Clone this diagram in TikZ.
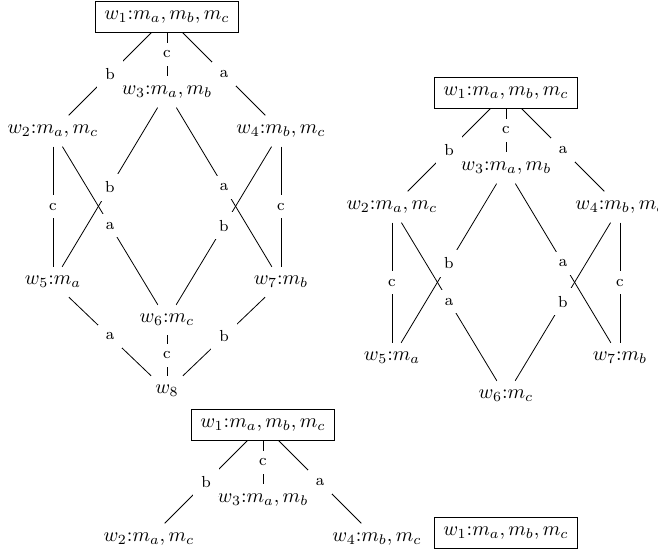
\documentclass[tikz,border=0pt]{standalone}
\tikzset{
  world/.style={inner sep=4.5pt},
  actual/.style={world,draw},
  lbl/.style={fill=white,inner sep=4pt,font=\footnotesize},
}
\begin{document}
\begin{tikzpicture}[x=0.5pt,y=-0.5pt]
\useasboundingbox (0,0) rectangle (658,552);
\clip (0,0) rectangle (658,552);
% ---------- left model ----------
\node[actual] (L1) at (167,17) {$w_1{:}m_a,m_b,m_c$};
\node[world] (L3) at (167,92) {$w_3{:}m_a,m_b$};
\node[world] (L2) at (53,131) {$w_2{:}m_a,m_c$};
\node[world] (L4) at (281,131) {$w_4{:}m_b,m_c$};
\node[world] (L5) at (53,282) {$w_5{:}m_a$};
\node[world] (L7) at (281,282) {$w_7{:}m_b$};
\node[world] (L6) at (167,320) {$w_6{:}m_c$};
\node[world] (L8) at (167,391) {$w_8$};
\draw (L1) -- node[lbl]{b} (L2);
\draw (L1) -- node[lbl]{c} (L3);
\draw (L1) -- node[lbl]{a} (L4);
\draw (L2) -- node[lbl]{c} (L5);
\draw (L2) -- node[lbl]{a} (L6);
\draw (L3) -- node[lbl]{b} (L5);
\draw (L3) -- node[lbl]{a} (L7);
\draw (L4) -- node[lbl]{b} (L6);
\draw (L4) -- node[lbl]{c} (L7);
\draw (L5) -- node[lbl]{a} (L8);
\draw (L6) -- node[lbl]{c} (L8);
\draw (L7) -- node[lbl]{b} (L8);
% ---------- right model ----------
\begin{scope}[shift={(339,76)}]
\node[actual] (R1) at (167,17) {$w_1{:}m_a,m_b,m_c$};
\node[world] (R3) at (167,92) {$w_3{:}m_a,m_b$};
\node[world] (R2) at (53,131) {$w_2{:}m_a,m_c$};
\node[world] (R4) at (281,131) {$w_4{:}m_b,m_c$};
\node[world] (R5) at (53,282) {$w_5{:}m_a$};
\node[world] (R7) at (281,282) {$w_7{:}m_b$};
\node[world] (R6) at (167,320) {$w_6{:}m_c$};
\draw (R1) -- node[lbl]{b} (R2);
\draw (R1) -- node[lbl]{c} (R3);
\draw (R1) -- node[lbl]{a} (R4);
\draw (R2) -- node[lbl]{c} (R5);
\draw (R2) -- node[lbl]{a} (R6);
\draw (R3) -- node[lbl]{b} (R5);
\draw (R3) -- node[lbl]{a} (R7);
\draw (R4) -- node[lbl]{b} (R6);
\draw (R4) -- node[lbl]{c} (R7);
\end{scope}
% ---------- bottom tree ----------
\begin{scope}[shift={(96,408)}]
\node[actual] (B1) at (167,17) {$w_1{:}m_a,m_b,m_c$};
\node[world] (B3) at (167,92) {$w_3{:}m_a,m_b$};
\node[world] (B2) at (53,131) {$w_2{:}m_a,m_c$};
\node[world] (B4) at (281,131) {$w_4{:}m_b,m_c$};
\draw (B1) -- node[lbl]{b} (B2);
\draw (B1) -- node[lbl]{c} (B3);
\draw (B1) -- node[lbl]{a} (B4);
\end{scope}
% ---------- lone actual world ----------
\node[actual] (S1) at (506,533) {$w_1{:}m_a,m_b,m_c$};
\end{tikzpicture}
\end{document}
